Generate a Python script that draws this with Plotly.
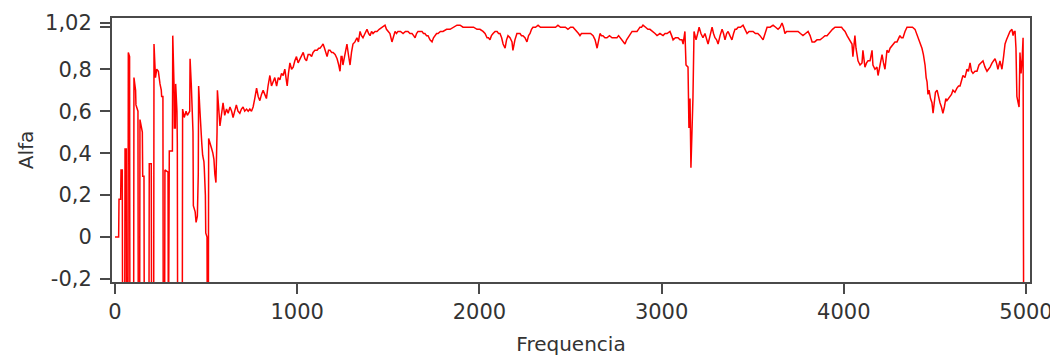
import plotly.graph_objects as go

freq = [0, 20, 22, 31, 33, 40, 42, 53, 55, 62, 64, 71, 73, 80, 82, 102, 104, 113, 115, 126,
        128, 135, 137, 150, 152, 159, 161, 186, 188, 199, 201, 212, 214, 222, 229, 238, 247, 254, 256, 263,
        265, 272, 274, 291, 293, 296, 298, 315, 317, 324, 326, 331, 333, 340, 342, 344, 369, 371, 380, 390,
        397, 410, 412, 419, 421, 428, 430, 440, 445, 452, 457, 459, 465, 470, 476, 481, 488, 490, 496, 498,
        505, 507, 512, 514, 522, 531, 537, 543, 548, 554, 560, 562,
        576, 585, 593, 602, 612, 621, 631, 640, 648, 657, 666, 675, 685, 694, 703, 712, 722, 731, 740, 749,
        758, 767, 777, 786, 795, 804, 813, 822, 831, 840, 850, 859, 868, 877, 887, 896, 905, 914, 923, 932,
        940, 945, 952, 960, 969, 978, 987, 996, 1005, 1015, 1024, 1033, 1042, 1051, 1060, 1070, 1079, 1087, 1097, 1109,
        1118, 1125, 1134, 1142, 1150, 1157, 1164, 1172, 1180, 1189, 1197, 1208, 1219, 1228, 1235, 1241, 1246, 1251, 1262, 1273,
        1281, 1290, 1298, 1306, 1317, 1328, 1336, 1345, 1353, 1361, 1372, 1383, 1392, 1400, 1408, 1416, 1427, 1438, 1450, 1465,
        1482, 1490, 1498, 1509, 1520, 1528, 1537, 1545, 1553, 1567, 1581, 1594, 1608, 1619, 1630, 1639, 1647, 1655, 1663, 1674,
        1685, 1693, 1701, 1710, 1718, 1729, 1740, 1748, 1756, 1765, 1773, 1786, 1800, 1820, 1839, 1858, 1877, 1894, 1910, 1929,
        1948, 1968, 1987, 2003, 2020, 2031, 2042, 2050, 2058, 2066, 2075, 2086, 2097, 2105, 2113, 2122, 2130, 2141, 2149, 2157,
        2168, 2179, 2184, 2195, 2206, 2215, 2223, 2231, 2239, 2250, 2261, 2270, 2278, 2286, 2294, 2308, 2322, 2335, 2349, 2362,
        2376, 2390, 2404, 2418, 2431, 2445, 2459, 2472, 2486, 2500, 2514, 2525, 2536, 2544, 2552, 2560, 2569, 2582, 2596, 2610,
        2624, 2635, 2646, 2654, 2662, 2670, 2678, 2689, 2700, 2714, 2728, 2741, 2755, 2764, 2772, 2785, 2799, 2808, 2816, 2827,
        2838, 2852, 2865, 2873, 2881, 2890, 2898, 2912, 2925, 2936, 2953, 2964, 2975, 2991, 3008, 3019, 3030, 3046, 3055, 3063,
        3076, 3090, 3101, 3112, 3118, 3128, 3134, 3145, 3150, 3156, 3161, 3167, 3172, 3178, 3189, 3198, 3206, 3216, 3227, 3238,
        3246, 3255, 3266, 3277, 3285, 3293, 3302, 3310, 3321, 3332, 3340, 3348, 3357, 3365, 3375, 3386, 3395, 3403, 3411, 3420,
        3433, 3447, 3458, 3469, 3480, 3491, 3502, 3515, 3528, 3540, 3549, 3557, 3568, 3579, 3596, 3612, 3626, 3639, 3650, 3661,
        3669, 3677, 3686, 3694, 3708, 3721, 3735, 3749, 3762, 3776, 3790, 3804, 3815, 3826, 3840, 3853, 3862, 3870, 3884, 3897,
        3908, 3925, 3938, 3952, 3966, 3979, 3988, 3996, 4007, 4018, 4031, 4045, 4050, 4056, 4061, 4067, 4072, 4078, 4089, 4100,
        4105, 4111, 4116, 4125, 4133, 4144, 4149, 4155, 4160, 4171, 4182, 4188, 4199, 4210, 4218, 4226, 4237, 4246, 4254, 4262,
        4270, 4281, 4292, 4300, 4308, 4316, 4325, 4336, 4347, 4355, 4363, 4377, 4391, 4400, 4407, 4418, 4429, 4437, 4446, 4452,
        4457, 4462, 4468, 4476, 4484, 4490, 4496, 4503, 4512, 4520, 4528, 4536, 4544, 4552, 4560, 4566, 4575, 4583, 4591, 4599,
        4610, 4621, 4630, 4638, 4646, 4654, 4665, 4676, 4684, 4693, 4701, 4709, 4720, 4731, 4742, 4753, 4764, 4775, 4786, 4794,
        4803, 4814, 4822, 4830, 4838, 4846, 4857, 4868, 4877, 4885, 4893, 4901, 4912, 4923, 4929, 4935, 4940, 4945, 4950, 4957,
        4962, 4967, 4973, 4979, 4984, 4988]

alfa = [0.00, 0.00, 0.18, 0.18, 0.32, 0.32, -0.6, -0.6, 0.42, 0.42, -0.6, -0.6, 0.88, 0.86, -0.6, -0.6, 0.76, 0.70, 0.63, 0.60,
        -0.6, -0.6, 0.56, 0.50, 0.29, 0.29, -0.6, -0.6, 0.35, 0.35, -0.6, -0.6, 0.92, 0.76, 0.80, 0.79, 0.73, 0.70, 0.67, 0.67,
        -0.6, -0.6, 0.32, 0.31, -0.6, -0.6, 0.41, 0.41, 0.96, 0.72, 0.52, 0.52, 0.73, 0.60, 0.45, -0.6, -0.6, 0.61, 0.57, 0.60,
        0.58, 0.60, 0.85, 0.72, 0.67, 0.50, 0.15, 0.12, 0.07, 0.10, 0.30, 0.72, 0.62, 0.50, 0.45, 0.39, 0.36, 0.33, 0.20, 0.02,
        0.00, -0.6, -0.6, 0.47, 0.44, 0.42, 0.40, 0.37, 0.30, 0.26, 0.50, 0.70,
        0.53, 0.60, 0.64, 0.58, 0.61, 0.59, 0.62, 0.60, 0.57, 0.60, 0.63, 0.60, 0.59, 0.61, 0.62, 0.60, 0.61, 0.60, 0.61, 0.60,
        0.62, 0.66, 0.71, 0.67, 0.65, 0.68, 0.70, 0.68, 0.66, 0.72, 0.77, 0.72, 0.74, 0.76, 0.72, 0.76, 0.75, 0.78, 0.77, 0.80,
        0.75, 0.72, 0.78, 0.83, 0.80, 0.81, 0.84, 0.86, 0.83, 0.85, 0.86, 0.88, 0.85, 0.84, 0.87, 0.87, 0.86, 0.88, 0.89, 0.89,
        0.90, 0.90, 0.91, 0.92, 0.90, 0.88, 0.86, 0.89, 0.89, 0.88, 0.88, 0.87, 0.85, 0.82, 0.79, 0.86, 0.86, 0.82, 0.88, 0.92,
        0.87, 0.82, 0.88, 0.92, 0.93, 0.95, 0.93, 0.98, 0.96, 0.95, 0.97, 0.99, 0.97, 0.96, 0.98, 0.97, 0.98, 0.98, 0.99, 1.00,
        1.01, 0.99, 0.98, 0.97, 0.93, 0.96, 0.98, 0.97, 0.98, 0.98, 0.97, 0.98, 0.98, 0.97, 0.97, 0.96, 0.95, 0.97, 0.98, 0.98,
        0.98, 0.97, 0.97, 0.96, 0.96, 0.94, 0.93, 0.95, 0.96, 0.97, 0.97, 0.98, 0.98, 0.99, 0.99, 1.00, 1.01, 1.01, 1.00, 1.00,
        1.00, 1.00, 0.99, 0.99, 0.98, 0.97, 0.95, 0.95, 0.94, 0.96, 0.97, 0.98, 0.98, 0.97, 0.97, 0.95, 0.92, 0.90, 0.94, 0.96,
        0.95, 0.93, 0.89, 0.94, 0.97, 0.97, 0.97, 0.96, 0.96, 0.95, 0.93, 0.96, 0.97, 0.99, 1.00, 1.00, 1.01, 1.00, 1.00, 1.00,
        1.00, 1.00, 1.00, 1.00, 1.01, 1.00, 1.00, 1.00, 0.99, 1.00, 1.00, 0.99, 0.98, 0.97, 0.96, 0.97, 0.97, 0.97, 0.97, 0.97,
        0.96, 0.94, 0.90, 0.94, 0.97, 0.96, 0.96, 0.95, 0.95, 0.96, 0.95, 0.95, 0.95, 0.96, 0.95, 0.94, 0.92, 0.94, 0.95, 0.97,
        0.98, 0.98, 0.98, 0.99, 1.00, 1.00, 1.01, 1.00, 0.99, 0.99, 0.98, 0.97, 0.96, 0.97, 0.96, 0.97, 0.97, 0.98, 0.96, 0.94,
        0.95, 0.95, 0.94, 0.94, 0.92, 0.98, 0.82, 0.81, 0.52, 0.66, 0.33, 0.50, 0.66, 0.98, 0.94, 0.97, 1.00, 0.97, 0.95, 0.97,
        0.95, 0.92, 0.96, 1.00, 0.97, 0.95, 0.94, 0.92, 0.96, 0.99, 0.97, 0.94, 0.97, 0.98, 0.96, 0.94, 0.97, 0.99, 0.99, 1.00,
        1.00, 1.01, 0.99, 0.97, 0.98, 0.98, 0.98, 0.97, 0.97, 0.96, 0.95, 0.94, 0.97, 1.00, 1.00, 1.01, 1.00, 0.99, 1.00, 1.02,
        1.00, 0.97, 0.98, 0.98, 0.98, 0.98, 0.98, 0.98, 0.97, 0.96, 0.97, 0.98, 0.96, 0.93, 0.93, 0.94, 0.94, 0.94, 0.95, 0.96,
        0.96, 0.98, 0.99, 1.00, 1.00, 1.00, 1.00, 0.99, 0.98, 0.96, 0.94, 0.92, 0.86, 0.92, 0.96, 0.90, 0.86, 0.84, 0.82, 0.83,
        0.89, 0.84, 0.81, 0.83, 0.84, 0.84, 0.86, 0.89, 0.82, 0.80, 0.81, 0.77, 0.82, 0.87, 0.83, 0.80, 0.89, 0.88, 0.90, 0.91,
        0.92, 0.93, 0.93, 0.95, 0.96, 0.95, 0.95, 0.98, 1.00, 1.00, 1.00, 1.00, 0.99, 0.97, 0.95, 0.93, 0.90, 0.87, 0.82, 0.76,
        0.74, 0.68, 0.70, 0.66, 0.64, 0.59, 0.63, 0.69, 0.70, 0.66, 0.64, 0.62, 0.59, 0.62, 0.66, 0.65, 0.66, 0.67, 0.68, 0.70,
        0.69, 0.71, 0.72, 0.72, 0.74, 0.77, 0.76, 0.80, 0.79, 0.83, 0.79, 0.78, 0.79, 0.79, 0.82, 0.83, 0.84, 0.81, 0.79, 0.80,
        0.81, 0.83, 0.84, 0.85, 0.83, 0.80, 0.84, 0.80, 0.86, 0.92, 0.94, 0.96, 0.98, 0.99, 0.96, 0.98, 0.98, 0.90, 0.67, 0.64,
        0.62, 0.88, 0.78, 0.85, 0.95, -0.8]

x_ticks = [0, 1000, 2000, 3000, 4000, 5000]
x_ticktext = ["0", "1000", "2000", "3000", "4000", "5000"]
y_ticks = [-0.2, 0, 0.2, 0.4, 0.6, 0.8, 1.0, 1.02]
y_ticktext = ["-0,2", "0", "0,2", "0,4", "0,6", "0,8", "", "1,02"]

FONT = "DejaVu Sans"
AXC = "#4a4a4a"
TXT = "#333333"

fig = go.Figure()
fig.add_trace(go.Scatter(x=freq, y=alfa, mode="lines",
                         line=dict(color="#ff0000", width=1.5),
                         hoverinfo="x+y", showlegend=False))

# the page places the figure 8px in from the top-left corner
fig.update_layout(
    width=1050, height=352,
    margin=dict(l=104, r=28, t=10, b=78),
    paper_bgcolor="white", plot_bgcolor="white",
    font=dict(family=FONT, size=21, color=TXT),
)
fig.update_xaxes(
    range=[-16.5, 5022], tickvals=x_ticks, ticktext=x_ticktext,
    automargin=False,
    showgrid=False, zeroline=False,
    showline=True, mirror=True, linecolor=AXC, linewidth=2,
    ticks="outside", ticklen=10, tickwidth=2, tickcolor=AXC,
    ticklabelstandoff=0,
    title=dict(text="Frequencia", standoff=14, font=dict(size=20, family=FONT, color=TXT)),
)
fig.update_yaxes(
    range=[-0.214, 1.044], tickvals=y_ticks, ticktext=y_ticktext,
    automargin=False,
    showgrid=False, zeroline=False,
    showline=True, mirror=True, linecolor=AXC, linewidth=2,
    ticks="outside", ticklen=10, tickwidth=2, tickcolor=AXC,
    ticklabelstandoff=4,
    title=dict(text="Alfa", standoff=6, font=dict(size=20, family=FONT, color=TXT)),
)

fig.write_html("out.html")
